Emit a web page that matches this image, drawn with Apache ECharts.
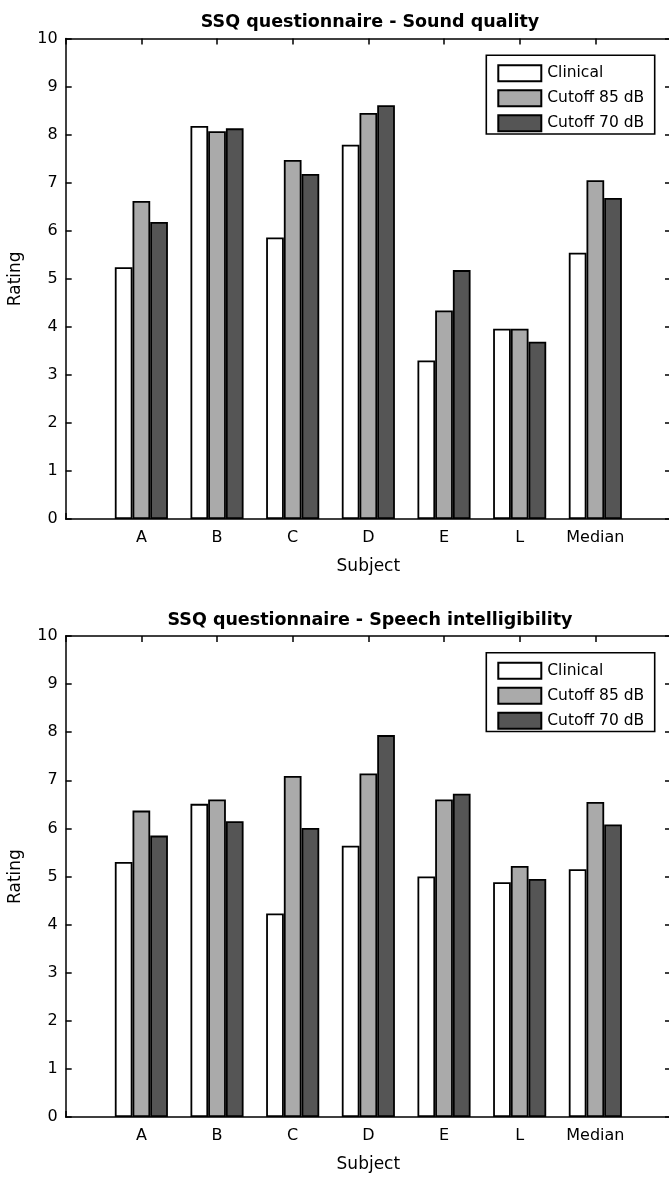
<!DOCTYPE html>
<html>
<head>
<meta charset="utf-8">
<script src="https://cdn.jsdelivr.net/npm/echarts@6/dist/echarts.min.js"></script>
<style>
  html, body { margin: 0; padding: 0; background: #fff; }
  #chart { width: 669px; height: 1177px; }
</style>
</head>
<body>
<div id="chart"></div>
<script>
// Subjects along the x axis (placed at x = 1..7)
const categories = ['A', 'B', 'C', 'D', 'E', 'L', 'Median'];
const seriesNames = ['Clinical', 'Cutoff 85 dB', 'Cutoff 70 dB'];
const yTicks = [0, 1, 2, 3, 4, 5, 6, 7, 8, 9, 10];

// SSQ – Sound quality ratings
const soundClinical = [5.24, 8.18, 5.86, 7.79, 3.30, 3.96, 5.54];
const sound85 = [6.62, 8.07, 7.47, 8.45, 4.34, 3.96, 7.05];
const sound70 = [6.18, 8.13, 7.18, 8.61, 5.18, 3.69, 6.68];

// SSQ – Speech intelligibility ratings
const speechClinical = [5.30, 6.51, 4.23, 5.64, 5.00, 4.88, 5.15];
const speech85 = [6.37, 6.60, 7.09, 7.14, 6.60, 5.22, 6.55];
const speech70 = [5.85, 6.15, 6.01, 7.94, 6.72, 4.95, 6.08];

const titles = ['SSQ questionnaire - Sound quality', 'SSQ questionnaire - Speech intelligibility'];

const FONT = 'DejaVu Sans';
const fills = ['#ffffff', '#aaaaaa', '#555555'];

const panels = [
  { top: 38.5, height: 480.5, data: [soundClinical, sound85, sound70] },
  { top: 636, height: 481, data: [speechClinical, speech85, speech70] }
];
const gridLeft = 65.7;
const gridWidth = 605.3;   // x range 0..8, right edge just past the canvas

const tickStyle = { show: true, inside: true, length: 6, lineStyle: { color: '#000', width: 1.5 } };
const lineStyle = { show: true, onZero: false, lineStyle: { color: '#000', width: 1.5 } };

const option = {
  animation: false,
  backgroundColor: '#fff',
  textStyle: { fontFamily: FONT },
  title: [],
  grid: [],
  xAxis: [],
  yAxis: [],
  legend: [],
  graphic: [],
  series: []
};

panels.forEach((p, i) => {
  option.grid.push({
    left: gridLeft, top: p.top, width: gridWidth, height: p.height,
    containLabel: false, outerBoundsMode: 'none'
  });

  option.title.push({
    text: titles[i],
    left: 365,
    textAlign: 'center',
    top: p.top - 30,
    textStyle: { fontFamily: FONT, fontSize: 17.5, fontWeight: 'bold', color: '#000' }
  });

  // bottom x axis with subject labels
  option.xAxis.push({
    type: 'value', gridIndex: i, position: 'bottom', min: 0, max: 8, interval: 1,
    axisLine: lineStyle, axisTick: tickStyle, splitLine: { show: false },
    axisLabel: {
      color: '#000', fontFamily: FONT, fontSize: 16, margin: 11,
      formatter: v => (v >= 1 && v <= categories.length) ? categories[v - 1] : ''
    },
    name: 'Subject', nameLocation: 'middle', nameGap: 39,
    nameTextStyle: { color: '#000', fontFamily: FONT, fontSize: 17 }
  });
  // top frame with ticks
  option.xAxis.push({
    type: 'value', gridIndex: i, position: 'top', min: 0, max: 8, interval: 1,
    axisLine: lineStyle, axisTick: tickStyle, splitLine: { show: false },
    axisLabel: { show: false }
  });
  // left rating axis
  option.yAxis.push({
    type: 'value', gridIndex: i, position: 'left', min: yTicks[0], max: yTicks[yTicks.length - 1], interval: 1,
    axisLine: lineStyle, axisTick: tickStyle, splitLine: { show: false },
    axisLabel: { color: '#000', fontFamily: FONT, fontSize: 16, margin: 8 },
    name: 'Rating', nameLocation: 'middle', nameGap: 42, nameRotate: 90,
    nameTextStyle: { color: '#000', fontFamily: FONT, fontSize: 17 }
  });
  // right frame with ticks
  option.yAxis.push({
    type: 'value', gridIndex: i, position: 'right', min: 0, max: 10, interval: 1,
    axisLine: lineStyle, axisTick: tickStyle, splitLine: { show: false },
    axisLabel: { show: false }
  });

  seriesNames.forEach((name, s) => {
    option.series.push({
      type: 'bar', name: name,
      xAxisIndex: i * 2, yAxisIndex: i * 2,
      barWidth: 17.7, barGap: '0%',
      itemStyle: { color: fills[s], borderColor: '#000', borderWidth: 1.8 },
      data: p.data[s].map((v, k) => [k + 1, v])
    });
  });

  // legend frame
  const boxTop = p.top + 16.8;
  option.graphic.push({
    type: 'rect', z: 3,
    shape: { x: 486.3, y: boxTop, width: 168.4, height: 78.7 },
    style: { fill: '#fff', stroke: '#000', lineWidth: 1.6 }
  });
  option.legend.push({
    data: seriesNames, orient: 'vertical', z: 5,
    left: 497.3 - 5, top: boxTop + 9 - 5,
    itemWidth: 43, itemHeight: 16, itemGap: 7, icon: 'rect',
    itemStyle: { borderColor: '#000', borderWidth: 2 },
    textStyle: { color: '#000', fontFamily: FONT, fontSize: 15.5, padding: [0, 0, 0, 1] },
    selectedMode: false
  });
});

const chart = echarts.init(document.getElementById('chart'), null, { renderer: 'canvas' });
chart.setOption(option);
</script>
</body>
</html>
